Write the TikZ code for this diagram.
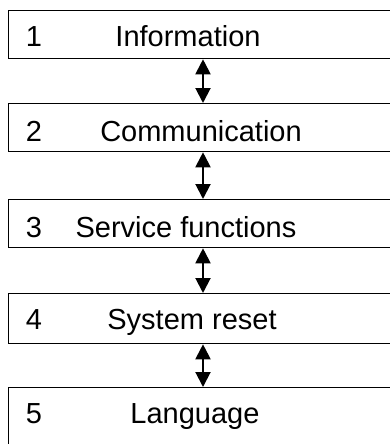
\documentclass[tikz,border=0pt]{standalone}
\usepackage{fontspec}
\setmainfont{Liberation Sans}
\usetikzlibrary{arrows.meta,positioning}
\tikzset{
  stepbox/.style ={draw, rectangle, anchor=north west, minimum width=420pt,
                   minimum height=48pt, inner sep=0pt, line width=1.3pt},
  lastbox/.style ={stepbox, minimum height=90pt},
  numlbl/.style  ={anchor=base, inner sep=0pt,
                   font=\fontsize{29}{34}\selectfont},
  steplbl/.style ={anchor=base, inner sep=0pt,
                   font=\fontsize{29}{34}\selectfont},
  link/.style    ={{Triangle[length=15pt,width=15pt]}-{Triangle[length=15pt,width=15pt]},
                   line width=2pt},
}

\begin{document}
\begin{tikzpicture}[x=1pt, y=-1pt]
  \useasboundingbox (0,0) rectangle (390,444);
  \clip (0,0) rectangle (390,444);
  \node[stepbox] (info)  at (8,10)  {};
  \node[stepbox] (comm)  at (8,103) {};
  \node[stepbox] (serv)  at (8,199) {};
  \node[stepbox, minimum height=50pt] (reset) at (8,293) {};
  \node[lastbox] (lang)  at (8,387) {};
  % labels
  \node[numlbl]  (n1) at (34,47)   {1};
  \node[steplbl] (t1) at (188,47)  {Information};
  \node[numlbl]  (n2) at (34,141)  {2};
  \node[steplbl] (t2) at (201,141) {Communication};
  \node[numlbl]  (n3) at (34,237)  {3};
  \node[steplbl] (t3) at (186,237) {Service functions};
  \node[numlbl]  (n4) at (34,329)  {4};
  \node[steplbl] (t4) at (192,329) {System reset};
  \node[numlbl]  (n5) at (34,423)  {5};
  \node[steplbl] (t5) at (195,423) {Language};
  % links
  \coordinate (ax) at (203,0);
  \draw[link] (info.south -| ax)  -- (comm.north -| ax);
  \draw[link] (comm.south -| ax)  -- (serv.north -| ax);
  \draw[link] (serv.south -| ax)  -- (reset.north -| ax);
  \draw[link] (reset.south -| ax) -- (lang.north -| ax);
\end{tikzpicture}
\end{document}
